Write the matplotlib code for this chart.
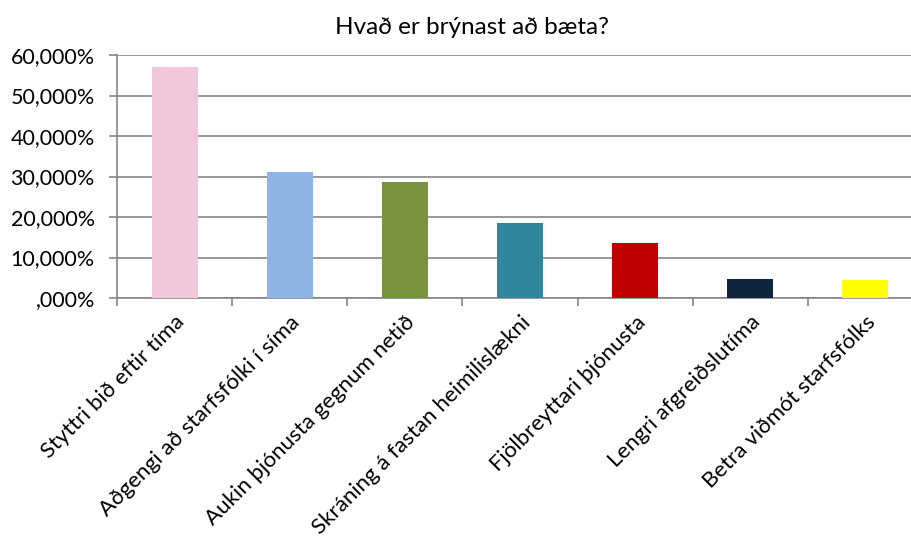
import matplotlib
matplotlib.use("Agg")
import matplotlib.pyplot as plt
from matplotlib.ticker import FuncFormatter, FixedLocator

categories = ["Styttri bið eftir tíma", "Aðgengi að starfsfólki í síma",
              "Aukin þjónusta gegnum netið", "Skráning á fastan heimilislækni",
              "Fjölbreyttari þjónusta", "Lengri afgreiðslutíma",
              "Betra viðmót starfsfólks"]
values = [0.570, 0.311, 0.286, 0.185, 0.136, 0.047, 0.044]
colors = ["#F2C7DB", "#8EB4E3", "#77933C", "#31859C", "#C00000", "#10243E", "#FFFF00"]
title = "Hvað er brýnast að bæta?"
yticks = [0, 0.1, 0.2, 0.3, 0.4, 0.5, 0.6]

plt.rcParams['font.family'] = ['Lato', 'DejaVu Sans']

fig = plt.figure(figsize=(9.11, 5.40), dpi=100)
ax = fig.add_axes([117/911, 1-298/540, (923-117)/911, (298-55)/540])

x = list(range(len(categories)))
ax.bar(x, values, width=0.4, color=colors, zorder=3)
ax.set_xlim(-0.5, len(categories)-0.5)
ax.set_ylim(0, 0.6)
ax.set_yticks(yticks)

def fmt(v, pos):
    s = f"{v*100:.3f}".replace('.', ',')
    if s.startswith("0,"):
        s = s[1:]
    return s + "%"

ax.yaxis.set_major_formatter(FuncFormatter(fmt))
ax.yaxis.grid(True, color="#868686", linewidth=1.2, zorder=0)
ax.set_axisbelow(True)

ax.set_xticks(x)
ax.set_xticklabels(categories, rotation=45, ha='right', va='top', rotation_mode='anchor', fontsize=16)
ax.tick_params(axis='x', which='major', length=0, pad=10)
ax.xaxis.set_minor_locator(FixedLocator([i-0.5 for i in range(len(categories)+1)]))
ax.tick_params(axis='x', which='minor', length=6, width=1.2, color="#868686", direction='out')
ax.tick_params(axis='y', which='major', length=6, width=1.2, color="#868686", direction='out', pad=10, labelsize=15.5)

for s in ['top', 'right']:
    ax.spines[s].set_visible(False)
for s in ['left', 'bottom']:
    ax.spines[s].set_color("#868686")
    ax.spines[s].set_linewidth(1.2)

fig.text(472/911, 1-28/540, title, ha='center', va='center', fontsize=17.5)

fig.savefig("out.png", dpi=100)
